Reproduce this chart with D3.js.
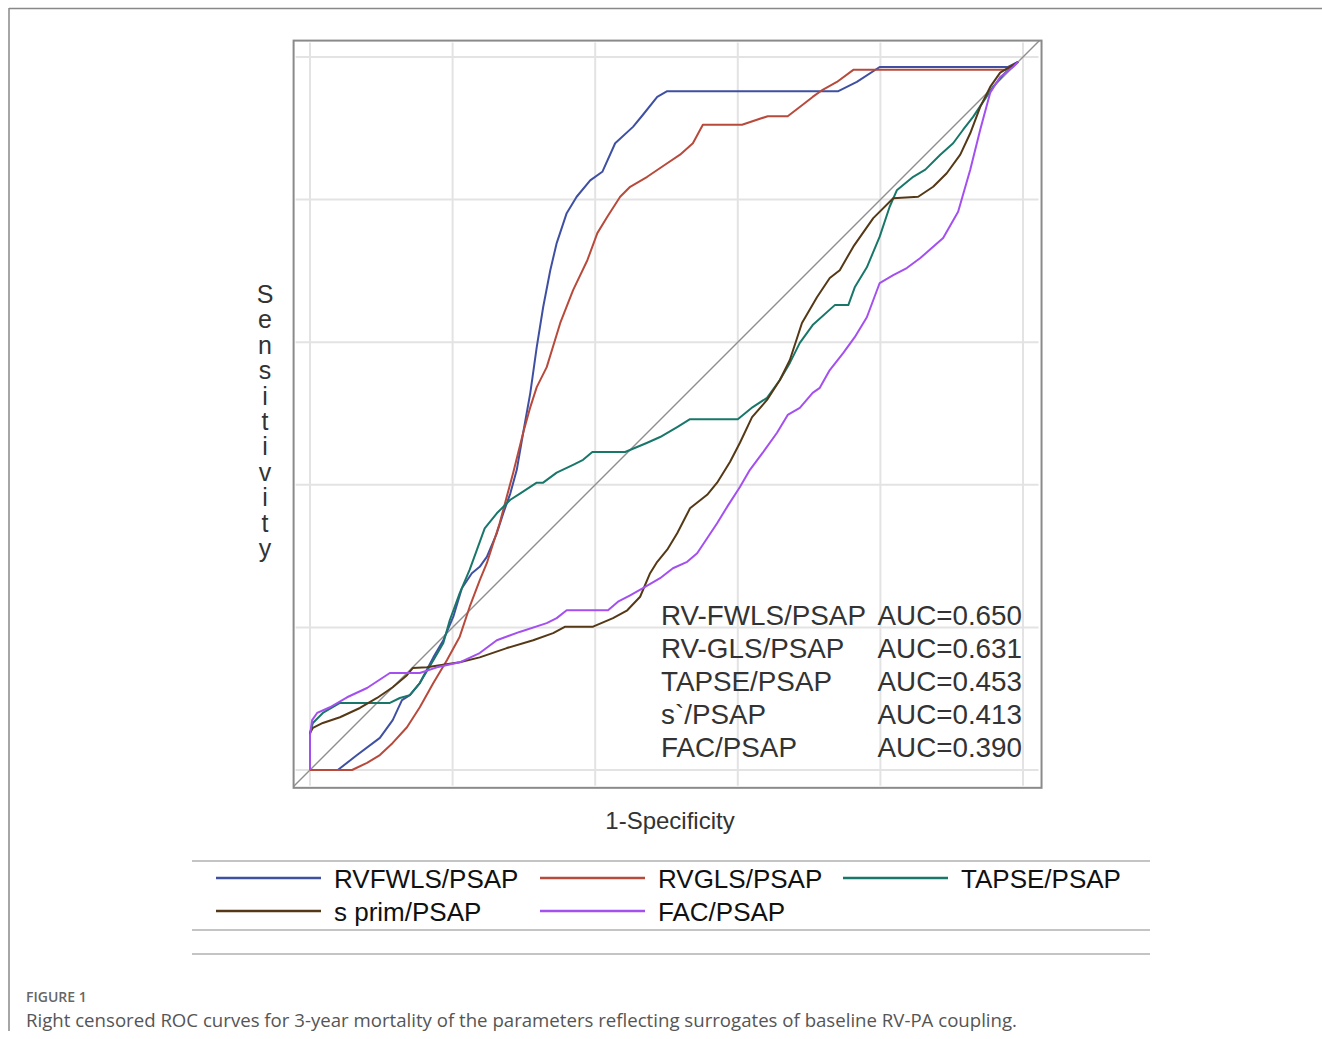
<!DOCTYPE html>
<html>
<head>
<meta charset="utf-8">
<script src="https://cdn.jsdelivr.net/npm/d3@7"></script>
<style>
  html, body { margin: 0; padding: 0; background: #fff; }
  svg { display: block; }
</style>
</head>
<body>
<svg id="chart" width="1322" height="1039"></svg>
<script>
// ---------------- data ----------------
const seriesNames = ["RVFWLS/PSAP", "RVGLS/PSAP", "TAPSE/PSAP", "s prim/PSAP", "FAC/PSAP"];
const aucNames = ["RV-FWLS/PSAP", "RV-GLS/PSAP", "TAPSE/PSAP", "s`/PSAP", "FAC/PSAP"];
const aucValues = ["0.650", "0.631", "0.453", "0.413", "0.390"];
const gridTicks = [0, 0.2, 0.4, 0.6, 0.8, 1.0];

const rvfwls = [[0,0],[0.039,0],[0.066,0.021],[0.098,0.045],[0.116,0.070],[0.129,0.098],[0.140,0.105],
  [0.154,0.122],[0.173,0.158],[0.187,0.182],[0.201,0.215],[0.213,0.255],[0.227,0.276],[0.238,0.285],
  [0.248,0.299],[0.262,0.332],[0.271,0.360],[0.281,0.388],[0.290,0.421],[0.299,0.473],[0.309,0.529],
  [0.318,0.593],[0.327,0.649],[0.337,0.701],[0.346,0.739],[0.360,0.781],[0.374,0.804],[0.393,0.827],
  [0.410,0.839],[0.428,0.879],[0.453,0.902],[0.467,0.919],[0.487,0.944],[0.501,0.952],[0.741,0.952],
  [0.767,0.965],[0.799,0.986],[0.979,0.986],[0.993,0.993]];

const rvgls = [[0,0],[0.059,0],[0.080,0.010],[0.098,0.021],[0.116,0.038],[0.136,0.060],[0.154,0.088],
  [0.173,0.122],[0.192,0.154],[0.210,0.187],[0.224,0.229],[0.238,0.266],[0.248,0.290],[0.266,0.346],
  [0.285,0.417],[0.299,0.473],[0.309,0.509],[0.318,0.537],[0.332,0.565],[0.351,0.627],[0.369,0.673],
  [0.389,0.715],[0.403,0.753],[0.417,0.776],[0.435,0.804],[0.449,0.818],[0.473,0.832],[0.501,0.851],
  [0.519,0.863],[0.537,0.879],[0.551,0.905],[0.606,0.905],[0.642,0.917],[0.670,0.917],[0.691,0.933],
  [0.705,0.944],[0.719,0.954],[0.739,0.965],[0.762,0.982],[0.975,0.982],[0.993,0.993]];

const tapse = [[0,0],[0,0.052],[0.004,0.066],[0.018,0.080],[0.042,0.094],[0.112,0.094],[0.126,0.101],
  [0.140,0.105],[0.154,0.122],[0.173,0.154],[0.187,0.178],[0.196,0.210],[0.210,0.248],[0.224,0.281],
  [0.245,0.339],[0.262,0.360],[0.281,0.379],[0.295,0.388],[0.318,0.403],[0.327,0.403],[0.346,0.417],
  [0.369,0.428],[0.383,0.435],[0.396,0.446],[0.442,0.446],[0.473,0.459],[0.491,0.467],[0.515,0.481],
  [0.533,0.492],[0.600,0.492],[0.621,0.509],[0.641,0.522],[0.659,0.547],[0.673,0.571],[0.687,0.599],
  [0.705,0.624],[0.736,0.652],[0.755,0.652],[0.764,0.677],[0.781,0.705],[0.799,0.748],[0.813,0.790],
  [0.823,0.813],[0.846,0.832],[0.863,0.842],[0.884,0.863],[0.902,0.879],[0.916,0.898],[0.930,0.916],
  [0.944,0.937],[0.958,0.958],[0.975,0.978],[0.993,0.993]];

const sprim = [[0,0],[0,0.052],[0.004,0.059],[0.018,0.066],[0.042,0.074],[0.070,0.087],[0.094,0.101],
  [0.116,0.116],[0.136,0.133],[0.144,0.143],[0.164,0.144],[0.182,0.147],[0.210,0.151],[0.238,0.158],
  [0.276,0.171],[0.313,0.182],[0.341,0.192],[0.358,0.201],[0.397,0.201],[0.425,0.213],[0.445,0.224],
  [0.463,0.243],[0.477,0.276],[0.487,0.292],[0.501,0.309],[0.515,0.332],[0.533,0.367],[0.557,0.386],
  [0.571,0.403],[0.589,0.432],[0.603,0.459],[0.620,0.495],[0.641,0.519],[0.659,0.547],[0.673,0.575],
  [0.690,0.627],[0.711,0.663],[0.729,0.690],[0.743,0.701],[0.762,0.734],[0.790,0.774],[0.818,0.802],
  [0.853,0.804],[0.874,0.818],[0.893,0.837],[0.912,0.863],[0.926,0.893],[0.940,0.930],[0.954,0.958],
  [0.968,0.978],[0.993,0.993]];

const fac = [[0,0],[0,0.049],[0.003,0.070],[0.010,0.080],[0.028,0.088],[0.052,0.102],[0.080,0.115],
  [0.112,0.136],[0.154,0.136],[0.178,0.144],[0.210,0.151],[0.238,0.164],[0.262,0.182],[0.295,0.194],
  [0.332,0.206],[0.346,0.213],[0.360,0.224],[0.418,0.224],[0.432,0.236],[0.449,0.245],[0.467,0.255],
  [0.491,0.269],[0.509,0.283],[0.529,0.292],[0.543,0.304],[0.557,0.325],[0.571,0.346],[0.585,0.369],
  [0.603,0.397],[0.617,0.421],[0.635,0.445],[0.655,0.473],[0.670,0.498],[0.687,0.508],[0.705,0.529],
  [0.715,0.536],[0.729,0.561],[0.748,0.585],[0.764,0.607],[0.781,0.635],[0.799,0.683],[0.818,0.694],
  [0.837,0.704],[0.856,0.718],[0.874,0.734],[0.888,0.746],[0.909,0.783],[0.926,0.842],[0.940,0.898],
  [0.954,0.950],[0.968,0.972],[0.986,0.986],[0.993,0.993]];

const seriesData = [rvfwls, rvgls, tapse, sprim, fac];
const seriesColors = ["#3f50a3", "#b84a3c", "#19776a", "#553916", "#a44ff0"];

// ---------------- drawing ----------------
const svg = d3.select("#chart");
const FONT = "'Liberation Sans', Arial, Helvetica, sans-serif";

const x = d3.scaleLinear().domain([0, 1]).range([310, 1023]);
const y = d3.scaleLinear().domain([0, 1]).range([770, 57]);
const xLim = [-0.023, 1.026];
const yLim = [-0.025, 1.023];

// outer figure frame
svg.append("line").attr("x1", 9).attr("x2", 1322).attr("y1", 8.5).attr("y2", 8.5)
  .attr("stroke", "#888").attr("stroke-width", 1.5);
svg.append("line").attr("x1", 9).attr("x2", 9).attr("y1", 8).attr("y2", 1031)
  .attr("stroke", "#888").attr("stroke-width", 1.5);

// grid
const grid = svg.append("g");
grid.selectAll("line.v").data(gridTicks).join("line")
  .attr("x1", d => x(d)).attr("x2", d => x(d))
  .attr("y1", y(yLim[0]) - 2).attr("y2", y(yLim[1]) + 2)
  .attr("stroke", "#e3e3e3").attr("stroke-width", 2);
grid.selectAll("line.h").data(gridTicks).join("line")
  .attr("y1", d => y(d)).attr("y2", d => y(d))
  .attr("x1", x(xLim[0]) + 2).attr("x2", x(xLim[1]) - 3)
  .attr("stroke", "#e3e3e3").attr("stroke-width", 2);

// clip for panel
svg.append("clipPath").attr("id", "panel").append("rect")
  .attr("x", x(xLim[0])).attr("y", y(yLim[1]))
  .attr("width", x(xLim[1]) - x(xLim[0])).attr("height", y(yLim[0]) - y(yLim[1]));

// diagonal reference
svg.append("line")
  .attr("clip-path", "url(#panel)")
  .attr("x1", x(-0.05)).attr("y1", y(-0.05)).attr("x2", x(1.05)).attr("y2", y(1.05))
  .attr("stroke", "#8f8f8f").attr("stroke-width", 1.4);

// curves
const line = d3.line().x(d => x(d[0])).y(d => y(d[1])).curve(d3.curveLinear);
const drawOrder = [0, 1, 2, 3, 4];
svg.append("g").selectAll("path").data(drawOrder).join("path")
  .attr("d", i => line(seriesData[i]))
  .attr("fill", "none")
  .attr("stroke", i => seriesColors[i])
  .attr("stroke-width", 2)
  .attr("stroke-linejoin", "round");

// panel border
svg.append("rect")
  .attr("x", x(xLim[0])).attr("y", y(yLim[1]))
  .attr("width", x(xLim[1]) - x(xLim[0])).attr("height", y(yLim[0]) - y(yLim[1]))
  .attr("fill", "none").attr("stroke", "#8a8a8a").attr("stroke-width", 2);

// AUC annotation
const ann = svg.append("g").attr("font-family", FONT).attr("font-size", 27.8).attr("fill", "#333");
ann.selectAll("text.n").data(aucNames).join("text")
  .attr("x", 661).attr("y", (d, i) => 625 + i * 33).text(d => d);
ann.selectAll("text.v").data(aucValues).join("text")
  .attr("x", 1022).attr("text-anchor", "end")
  .attr("y", (d, i) => 625 + i * 33).text(d => "AUC=" + d);

// axis titles
svg.append("text").attr("x", 670).attr("y", 829).attr("text-anchor", "middle")
  .attr("font-family", FONT).attr("font-size", 24).attr("fill", "#333").text("1-Specificity");
const yTitle = "Sensitivity".split("");
svg.append("g").selectAll("text").data(yTitle).join("text")
  .attr("x", 265).attr("y", (d, i) => 303 + i * 25.4).attr("text-anchor", "middle")
  .attr("font-family", FONT).attr("font-size", 25).attr("fill", "#333").text(d => d);

// legend
const legendRules = [861, 930, 954];
svg.append("g").selectAll("line").data(legendRules).join("line")
  .attr("x1", 192).attr("x2", 1150).attr("y1", d => d).attr("y2", d => d)
  .attr("stroke", "#c4c4c4").attr("stroke-width", 2);
const legendCols = [216, 540, 843];
const leg = svg.append("g").selectAll("g").data(seriesNames).join("g")
  .attr("transform", (d, i) => `translate(${legendCols[i % 3]},${878 + Math.floor(i / 3) * 33})`);
leg.append("line").attr("x1", 0).attr("x2", 105).attr("y1", 0).attr("y2", 0)
  .attr("stroke", (d, i) => seriesColors[i]).attr("stroke-width", 2.5);
leg.append("text").attr("x", 118).attr("y", 10)
  .attr("font-family", FONT).attr("font-size", 26).attr("fill", "#111").text(d => d);

// caption
svg.append("text").attr("x", 26).attr("y", 1002)
  .attr("font-family", "'Open Sans', sans-serif").attr("font-size", 14).attr("font-weight", 600)
  .attr("fill", "#666").text("FIGURE 1");
svg.append("text").attr("x", 26).attr("y", 1027)
  .attr("font-family", "'Open Sans', sans-serif").attr("font-size", 18.5).attr("fill", "#555")
  .attr("textLength", 991).attr("lengthAdjust", "spacingAndGlyphs")
  .text("Right censored ROC curves for 3-year mortality of the parameters reflecting surrogates of baseline RV-PA coupling.");
</script>
</body>
</html>
